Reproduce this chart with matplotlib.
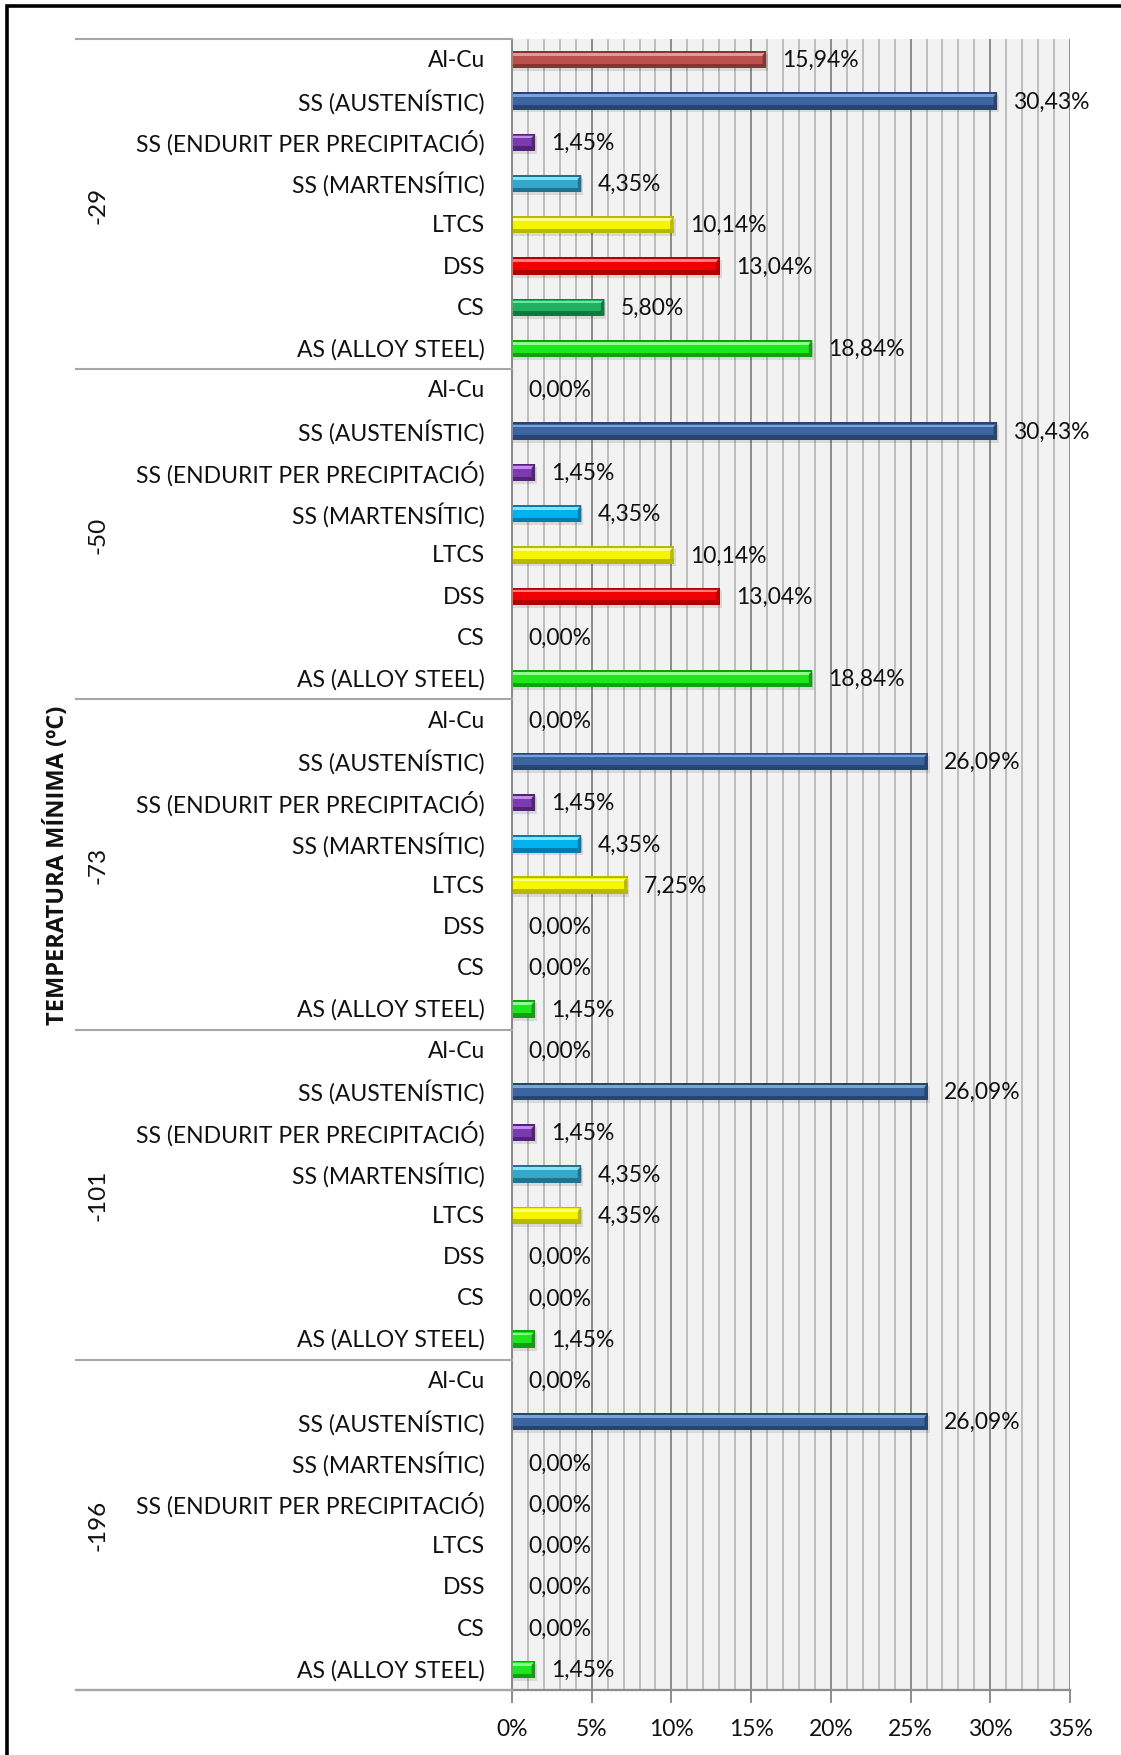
import matplotlib
matplotlib.use("Agg")
import matplotlib.pyplot as plt
from matplotlib.patches import Rectangle, Polygon
from matplotlib.transforms import blended_transform_factory, offset_copy

plt.rcParams['font.family'] = ['Lato', 'DejaVu Sans']

# ---- data -------------------------------------------------------------
groups = ['-29', '-50', '-73', '-101', '-196']

cats_default = ['Al-Cu', 'SS (AUSTENÍSTIC)', 'SS (ENDURIT PER PRECIPITACIÓ)',
                'SS (MARTENSÍTIC)', 'LTCS', 'DSS', 'CS', 'AS (ALLOY STEEL)']
cats_196 = ['Al-Cu', 'SS (AUSTENÍSTIC)', 'SS (MARTENSÍTIC)',
            'SS (ENDURIT PER PRECIPITACIÓ)', 'LTCS', 'DSS', 'CS', 'AS (ALLOY STEEL)']

vals_m29 = [15.94, 30.43, 1.45, 4.35, 10.14, 13.04, 5.80, 18.84]
vals_m50 = [0.00, 30.43, 1.45, 4.35, 10.14, 13.04, 0.00, 18.84]
vals_m73 = [0.00, 26.09, 1.45, 4.35, 7.25, 0.00, 0.00, 1.45]
vals_m101 = [0.00, 26.09, 1.45, 4.35, 4.35, 0.00, 0.00, 1.45]
vals_m196 = [0.00, 26.09, 0.00, 0.00, 0.00, 0.00, 0.00, 1.45]

group_cats = [cats_default, cats_default, cats_default, cats_default, cats_196]
group_vals = [vals_m29, vals_m50, vals_m73, vals_m101, vals_m196]

x_ticks = [0, 5, 10, 15, 20, 25, 30, 35]
y_title = 'TEMPERATURA MÍNIMA (ºC)'

# ---- bar colours: (light, main, dark) ---------------------------------
palette = {
    'Al-Cu': ('#e09a98', '#b9504c', '#8a3431'),
    'SS (AUSTENÍSTIC)': ('#7aa3d8', '#3b64a0', '#26456f'),
    'SS (ENDURIT PER PRECIPITACIÓ)': ('#c58cf0', '#7a3bb0', '#532378'),
    'SS (MARTENSÍTIC)': ('#7fe6fb', '#35a6cc', '#1f7391'),
    'LTCS': ('#ffff8a', '#f5f500', '#b8b800'),
    'DSS': ('#ff7a7a', '#f00000', '#b00000'),
    'CS': ('#6ee3a0', '#1fb060', '#0f7a3e'),
    'AS (ALLOY STEEL)': ('#8cff8c', '#1ee61e', '#0fa00f'),
}
cyan_alt = ('#80e4ff', '#00b2ee', '#007cae')
mart_alt_groups = {'-50', '-73'}

FS = 16.5
TXT = '#111111'

# ---- figure layout ----------------------------------------------------
W, H = 1121, 1756
fig = plt.figure(figsize=(W / 100, H / 100), dpi=100)
x0, x1, y_top, y_bot = 512, 1070, 40, 1691
ax = fig.add_axes([x0 / W, 1 - y_bot / H, (x1 - x0) / W, (y_bot - y_top) / H])

n_per = 8
n_rows = n_per * len(groups)
ax.set_xlim(0, 35)
ax.set_ylim(n_rows, 0)
ax.set_facecolor('#f2f2f2')

# vertical grid: every 1 %, stronger every 5 %
for xv in range(1, 36):
    major = xv % 5 == 0
    ax.axvline(xv, color='#8c8c8c' if major else '#b4b4b4',
               lw=1.4 if major else 1.2, zorder=0.5)

for s in ['top', 'right']:
    ax.spines[s].set_visible(False)
ax.spines['left'].set_color('#8c8c8c')
ax.spines['left'].set_linewidth(1.5)
ax.spines['bottom'].set_visible(False)

ax.set_xticks(x_ticks)
ax.set_xticklabels([f'{t}%' for t in x_ticks], fontsize=FS, color=TXT)
ax.tick_params(axis='x', length=9, width=1.4, color='#8c8c8c', pad=11)
ax.set_yticks([])

trans_y = blended_transform_factory(ax.transAxes, ax.transData)
sep_left = (76 - x0) / (x1 - x0)

# bottom axis line running under the category area as well
ax.plot([sep_left, 1.0], [n_rows, n_rows], transform=trans_y, color='#8c8c8c',
        lw=1.6, clip_on=False, zorder=3)

bar_h = 0.42
label_tr = offset_copy(ax.transData, fig=fig, x=16, y=0, units='dots')
cat_tr = offset_copy(trans_y, fig=fig, x=-27, y=0, units='dots')

for gi, (gname, cats, vals) in enumerate(zip(groups, group_cats, group_vals)):
    base = gi * n_per
    # group separators
    ax.plot([sep_left, 0], [base, base], transform=trans_y, color='#a6a6a6',
            lw=1.5, clip_on=False, zorder=3)
    # group label
    ax.text((98 - x0) / (x1 - x0), base + n_per / 2, gname, transform=trans_y,
            rotation=90, ha='center', va='center', fontsize=FS + 1, color=TXT)
    for ci, (cat, v) in enumerate(zip(cats, vals)):
        yc = base + ci + 0.5
        ax.text(0, yc, cat, transform=cat_tr, ha='right', va='center',
                fontsize=FS, color=TXT)
        light, main, dark = palette[cat]
        if cat == 'SS (MARTENSÍTIC)' and gname in mart_alt_groups:
            light, main, dark = cyan_alt
        if v > 0:
            # soft drop shadow
            ax.barh(yc + 0.07, v + 0.12, height=bar_h, left=0.0,
                    color='#000000', alpha=0.10, zorder=1.5, lw=0)
            # body: dark base, main face, highlight strip
            ax.barh(yc, v, height=bar_h, color=dark, zorder=2, lw=0)
            ax.barh(yc - bar_h * 0.08, v, height=bar_h * 0.64, color=main,
                    zorder=2.1, lw=0)
            ax.barh(yc - bar_h * 0.30, v, height=bar_h * 0.16, color=light,
                    zorder=2.2, lw=0)
            # bevelled end cap
            cap = min(0.22, v * 0.25)
            ax.add_patch(Polygon([(v - cap, yc - bar_h * 0.25), (v, yc - bar_h / 2),
                                  (v, yc + bar_h / 2), (v - cap, yc + bar_h * 0.25)],
                                 closed=True, color=dark, zorder=2.3, lw=0))
        ax.text(v, yc, f'{v:.2f}'.replace('.', ',') + '%', transform=label_tr,
                ha='left', va='center', fontsize=FS, color=TXT, zorder=4)

# bottom separator below the last group
ax.plot([sep_left, 0], [n_rows, n_rows], transform=trans_y, color='#a6a6a6',
        lw=1.5, clip_on=False, zorder=3)

# axis title
fig.text(58 / W, 1 - ((y_top + y_bot) / 2) / H, y_title, rotation=90,
         ha='center', va='center', fontsize=17, fontweight='bold', color=TXT,
         family=['Open Sans', 'DejaVu Sans'])

# outer frame (left and top edges visible)
fig.add_artist(Rectangle((6.5 / W, -0.05), 1.2, 1 - 6.5 / H + 0.05,
                         transform=fig.transFigure, fill=False, ec='black', lw=2.6))

fig.savefig('out.png', dpi=100, facecolor='white')
